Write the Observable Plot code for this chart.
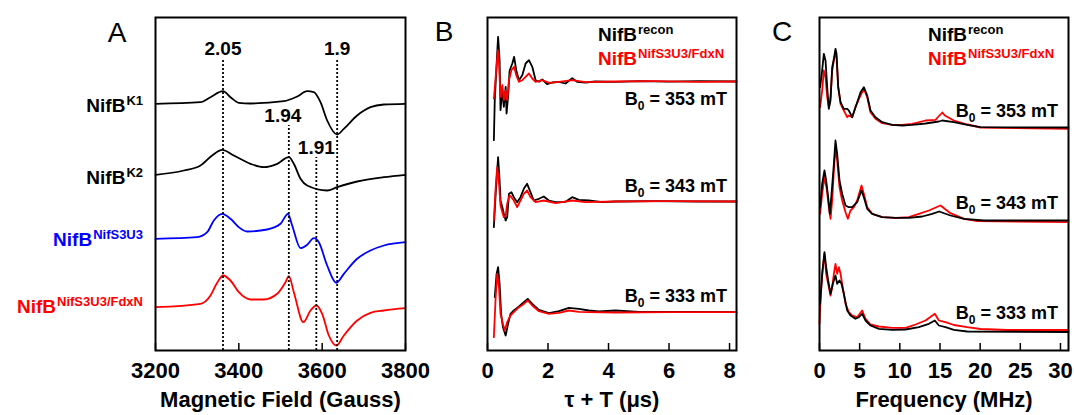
<!DOCTYPE html>
<html><head><meta charset="utf-8">
<script src="https://cdn.jsdelivr.net/npm/d3@7"></script>
<script src="https://cdn.jsdelivr.net/npm/@observablehq/plot@0.6"></script>
<style>
html,body{margin:0;padding:0;background:#fff;}
#fig{position:relative;width:1074px;height:415px;font-family:"Liberation Sans",Arial,sans-serif;overflow:hidden;background:#fff;}
#fig svg{position:absolute;top:0;}
.lbl{position:absolute;font-weight:bold;font-size:19px;line-height:19px;white-space:nowrap;transform:translateY(-50%);}
.lbl sup{font-size:13px;line-height:0;vertical-align:baseline;position:relative;top:-7px;margin-left:1px;}
.b0{position:absolute;font-weight:bold;font-size:18px;line-height:18px;white-space:nowrap;transform:translateY(-50%);}
.b0 sub{font-size:12px;line-height:0;vertical-align:baseline;position:relative;top:5px;}
.letter{position:absolute;font-size:28px;line-height:28px;transform:translate(-50%,-50%);}
</style>
</head><body><div id="fig"></div>
<script>
// ---------------- Panel A: EPR spectra ----------------
const fieldTicks = [3200, 3400, 3600, 3800];
const eprK1 = [[3200,0],[3308,1.6],[3332,6.6],[3362,12.6],[3380,6.6],[3400,1],[3428,0.3],[3508,2.6],[3540,7.3],[3564,12.6],[3580,11.6],[3596,1.6],[3612,-16.7],[3636,-30.7],[3652,-25],[3684,-11.7],[3716,-3.4],[3748,-0.7],[3800,0]];
const eprK2 = [[3200,0],[3268,4.3],[3308,9.3],[3336,19.3],[3360,25],[3388,19.3],[3428,11],[3460,7.6],[3492,11],[3520,17.6],[3532,11],[3548,-4],[3564,-10.7],[3612,-15.7],[3636,-12.4],[3684,-6.7],[3748,-2.4],[3800,0]];
const eprNifS3U3 = [[3200,0],[3300,1.6],[3324,6.6],[3340,18.3],[3360,25],[3380,20],[3400,11.6],[3420,7.3],[3468,9.3],[3500,15],[3518,25],[3528,13.3],[3548,-9.4],[3564,-6],[3580,0.6],[3592,-3.4],[3612,-26.7],[3634,-44],[3652,-35],[3684,-20],[3716,-11.7],[3748,-6.7],[3800,-3.4]];
const eprFdxN = [[3200,0],[3308,3.4],[3332,11.7],[3348,24.4],[3362,31.7],[3380,26.7],[3400,15],[3428,7.7],[3460,7.7],[3492,13.4],[3512,25],[3520,31],[3532,15],[3555,-15],[3572,-3.3],[3586,1.7],[3600,-6.6],[3616,-28.3],[3634,-38.3],[3652,-28.3],[3684,-13.3],[3716,-5.6],[3748,-3.3],[3800,-1]];
const eprSeries = ["K1", "K2", "NifS3U3", "NifS3U3/FdxN"];
const eprData = [eprK1, eprK2, eprNifS3U3, eprFdxN];
const eprOffsets = [246.7, 175.7, 111.7, 43.3];
const eprColors = ["#000000", "#000000", "#0000ff", "#ff0000"];
const gValues = ["2.05", "1.94", "1.91", "1.9"];
const gFields = [3362, 3520, 3586, 3636];
const gTops = [292, 225, 193, 292];

// ---------------- Panel B: 3P-ESEEM time domain ----------------
const timeTicks = [0, 2, 4, 6, 8];
const fieldsMT = [353, 343, 333];
const eseemOffsets = [269, 149, 38.3];
const tRecon353 = [[0.21,-58.7],[0.24,-18.7],[0.32,28],[0.35,44.7],[0.40,21.3],[0.43,-28.7],[0.49,-8.7],[0.54,-25.3],[0.60,-5.3],[0.63,-32],[0.68,-15.3],[0.73,10.7],[0.82,18],[0.88,24.7],[0.95,11.3],[1.04,1.3],[1.15,6.3],[1.26,18],[1.37,21.3],[1.48,14.7],[1.59,1.3],[1.70,-0.3],[1.81,2],[1.97,-2.7],[2.14,-1],[2.36,-0.3],[2.58,-2],[2.80,3.3],[2.96,-0.3],[3.24,-1],[3.57,0],[4.23,-0.3],[5.0,0.3],[6.0,-0.2],[7.0,0.3],[8.23,0]];
const tFdxN353 = [[0.21,-17],[0.29,11.3],[0.34,31.3],[0.38,18],[0.43,-15.3],[0.49,-3.7],[0.54,-18.7],[0.60,-8.7],[0.65,-18.7],[0.71,1.3],[0.79,11.3],[0.88,14.7],[0.95,6.3],[1.04,-0.3],[1.15,1.3],[1.26,4.7],[1.37,8],[1.48,3],[1.59,-0.3],[1.81,1.3],[2.03,-1.3],[2.36,-0.3],[2.80,1.3],[3.24,-0.7],[4.23,0],[5.5,0.3],[7.0,-0.3],[8.23,0]];
const tRecon343 = [[0.21,-25.7],[0.27,7.7],[0.32,31],[0.35,44.3],[0.40,21],[0.43,1],[0.49,-5.7],[0.54,-12.3],[0.60,-19],[0.65,-15.7],[0.71,7.7],[0.79,9.3],[0.87,4.3],[0.98,-0.7],[1.09,4.3],[1.20,12.7],[1.31,17.7],[1.42,9.3],[1.53,1],[1.70,2.7],[1.86,5],[2.03,1],[2.25,-0.7],[2.58,-0.3],[2.80,4.3],[3.02,1.7],[3.35,1],[3.79,-0.7],[4.23,0],[5.5,0.3],[7.0,0],[8.23,0]];
const tFdxN343 = [[0.21,-19],[0.27,14.3],[0.32,34.3],[0.38,17.7],[0.43,-4],[0.49,-10.7],[0.54,-15.7],[0.60,-14],[0.65,-2.3],[0.73,6],[0.79,4.3],[0.87,1],[0.98,-5.7],[1.09,1],[1.20,7.7],[1.31,11],[1.42,4.3],[1.59,-0.7],[1.86,1],[2.25,-1.7],[2.80,1],[3.24,-0.7],[4.23,0],[6.0,0.3],[8.23,0]];
const tRecon333 = [[0.24,15],[0.30,38.3],[0.35,45],[0.40,28.3],[0.45,-1.7],[0.51,-15],[0.60,-23.3],[0.68,-11.7],[0.76,-1.7],[0.87,1.7],[1.04,5.7],[1.20,10],[1.33,13.3],[1.48,8.3],[1.70,2.3],[2.03,-1],[2.36,1],[2.69,4.3],[3.02,3.3],[3.35,1.7],[3.68,0.7],[4.23,1.7],[5.0,0.3],[6.5,0.3],[8.23,0]];
const tFdxN333 = [[0.21,-25],[0.27,15],[0.32,38.3],[0.38,25],[0.43,-1.7],[0.51,-11.7],[0.57,-18.3],[0.65,-10],[0.76,-3.3],[0.87,0],[1.04,5],[1.20,8.3],[1.33,11.7],[1.48,6.7],[1.70,1],[2.03,-1.7],[2.36,-0.7],[2.69,1.7],[3.02,0.3],[3.35,0],[4.23,-0.3],[6.0,0],[8.23,0]];
const timeRecon = [tRecon353, tRecon343, tRecon333];
const timeFdxN = [tFdxN353, tFdxN343, tFdxN333];

// ---------------- Panel C: frequency domain ----------------
const freqTicks = [0, 5, 10, 15, 20, 25, 30];
const freqOffsets = [223, 130, 18.5];
const fRecon353 = [[0.08,40.3],[0.33,57],[0.54,73.7],[0.75,67],[0.96,40.3],[1.16,18.7],[1.37,27],[1.58,60.3],[1.79,68.7],[1.99,78.7],[2.12,73.7],[2.33,40.3],[2.62,25.3],[3.03,18.7],[3.45,18.7],[3.65,17],[4.07,10.3],[4.48,20.3],[5.11,35.3],[5.52,40.3],[5.94,32],[6.35,17],[6.97,10.3],[7.80,5.3],[9.05,2.7],[10.3,2],[11.54,2.7],[13.2,4],[14.86,6],[15.28,7],[16.73,5.3],[18.39,2.7],[20.05,0.3],[31,0]];
const fFdxN353 = [[0.08,20.3],[0.33,37],[0.54,57],[0.75,50.3],[0.96,30.3],[1.16,20.3],[1.37,30.3],[1.58,57],[1.79,67],[1.99,75.3],[2.12,70.3],[2.33,40.3],[2.62,23.7],[3.03,17],[3.45,10.3],[3.65,12],[4.07,10.3],[4.48,20.3],[5.11,32],[5.52,38.7],[5.94,30.3],[6.35,15.3],[6.97,8.7],[7.80,4.3],[9.05,2.7],[10.3,2.7],[11.54,3.7],[13.2,7],[14.45,7.7],[14.7,10],[15.3,15],[15.6,12],[16.73,7],[18.39,3],[20.05,0],[31,-1.3]];
const fRecon343 = [[0.08,13.3],[0.33,36.7],[0.62,50],[0.83,40],[1.08,23.3],[1.29,6.7],[1.50,26.7],[1.79,56.7],[1.99,80],[2.2,66.7],[2.49,40],[2.82,26.7],[3.24,15],[3.65,13.3],[4.07,13.3],[4.69,18.3],[5.23,30],[5.52,23.3],[5.94,11.7],[6.56,6.7],[7.80,3.3],[9.47,2.7],[11.13,2.7],[12.79,4],[14.03,6.7],[14.9,9],[16.3,5],[18.0,1.7],[20.47,0],[31,0]];
const fFdxN343 = [[0.08,6.7],[0.33,26.7],[0.62,43.3],[0.87,33.3],[1.16,13.3],[1.37,1.7],[1.58,20],[1.79,50],[1.99,73.3],[2.2,60],[2.49,33.3],[2.82,20],[3.24,8.3],[3.53,1.7],[3.86,10],[4.28,13.3],[4.69,20],[5.23,35],[5.52,26.7],[5.94,13.3],[6.56,6.7],[7.80,3.3],[9.47,2.7],[11.13,3.3],[12.37,6.7],[13.62,10],[14.9,14.5],[15.07,15],[16.3,7.3],[18.0,1.7],[19.63,-0.7],[31,-1.7]];
const fRecon333 = [[0.08,28.2],[0.33,58.2],[0.62,79.8],[0.83,64.8],[1.08,51.5],[1.37,38.2],[1.66,48.2],[1.99,56.5],[2.2,48.2],[2.49,51.5],[2.74,48.2],[3.03,38.2],[3.45,21.5],[3.86,16.5],[4.48,13.2],[4.90,14.8],[5.31,18.2],[5.73,11.5],[6.35,6.5],[7.39,3.2],[9.05,2.2],[10.71,2.5],[12.37,4.8],[13.62,8.2],[14.36,11.5],[14.86,6.5],[15.69,4.8],[16.73,2.2],[18.39,0.5],[31,0]];
const fFdxN333 = [[0,8.2],[0.17,38.2],[0.42,64.8],[0.62,78.2],[0.83,58.2],[1.08,48.2],[1.37,36.5],[1.58,44.8],[1.79,58.2],[1.99,68.2],[2.2,58.2],[2.41,64.8],[2.62,58.2],[2.82,48.2],[3.24,28.2],[3.65,19.8],[4.07,16.5],[4.69,14.8],[5.31,21.5],[5.73,13.2],[6.35,7.5],[7.39,5.5],[9.05,4.2],[10.71,4.2],[11.96,7.5],[13.2,11.5],[14.36,18.2],[14.86,11.5],[15.69,9.8],[16.73,7],[18.39,4.8],[20.05,3],[23.37,2],[31,2]];
const freqRecon = [fRecon353, fRecon343, fRecon333];
const freqFdxN = [fFdxN353, fFdxN343, fFdxN333];

// ---------------- layout helpers ----------------
const FONT = "'Liberation Sans', Arial, sans-serif";
const H = 415, MT = 17, MB = 65, PH = H - MT - MB;
const baseStyle = {fontFamily: FONT, fontWeight: "bold", fontSize: "20px", background: "transparent", overflow: "visible"};
const fig = document.getElementById("fig");

function axisMarks(ticks, title, fmt) {
  return [
    Plot.ruleX(ticks, {insetTop: PH - 7, stroke: "black", strokeWidth: 1.5}),
    Plot.frame({stroke: "black", strokeWidth: 2}),
    Plot.axisX({ticks, tickSize: 0, tickPadding: 12, tickFormat: fmt || (d => String(d)), fontSize: 22, fontWeight: "bold", fill: "black", label: null}),
    Plot.text([title], {text: d => d, frameAnchor: "bottom", dy: 49, lineAnchor: "middle", fontSize: 22, fontWeight: "bold", fill: "black"})
  ];
}
function lineOf(data, offset, color, curve) {
  return Plot.line(data, {x: d => d[0], y: d => d[1] + offset, stroke: color, strokeWidth: 1.8, curve: curve || "linear"});
}

// Panel A
const gRows = gValues.map((g, i) => ({g, f: gFields[i], top: gTops[i]}));
const plotA = Plot.plot({
  width: 420, height: H, marginLeft: 155, marginRight: 15, marginTop: MT, marginBottom: MB,
  x: {domain: [3200, 3800]}, y: {domain: [0, PH], axis: null},
  style: baseStyle,
  marks: [
    ...eprData.map((d, i) => lineOf(d, eprOffsets[i], eprColors[i], "monotone-x")),
    Plot.ruleX(gRows, {x: "f", y1: 0, y2: "top", stroke: "black", strokeWidth: 1.8, strokeDasharray: "2,2"}),
    Plot.text(gRows.filter(r => r.g !== "1.94"), {x: "f", y: "top", text: "g", dy: -10, fontSize: 19, fontWeight: "bold", fill: "black"}),
    Plot.text(gRows.filter(r => r.g === "1.94"), {x: "f", y: "top", text: "g", dy: -10, dx: -6, fontSize: 19, fontWeight: "bold", fill: "black"}),
    ...axisMarks(fieldTicks, "Magnetic Field (Gauss)")
  ]
});
plotA.style.left = "0px";
fig.appendChild(plotA);

// Panel B
const plotB = Plot.plot({
  width: 330, height: H, marginLeft: 67, marginRight: 14, marginTop: MT, marginBottom: MB,
  x: {domain: [0, 8.23]}, y: {domain: [0, PH], axis: null},
  style: baseStyle,
  marks: [
    ...timeRecon.map((d, i) => lineOf(d, eseemOffsets[i], "#000000")),
    ...timeFdxN.map((d, i) => lineOf(d, eseemOffsets[i], "#ff0000")),
    ...axisMarks(timeTicks, "τ + T (μs)")
  ]
});
plotB.style.left = "420px";
fig.appendChild(plotB);

// Panel C
const plotC = Plot.plot({
  width: 324, height: H, marginLeft: 69, marginRight: 6, marginTop: MT, marginBottom: MB,
  x: {domain: [0, 31]}, y: {domain: [0, PH], axis: null},
  style: baseStyle,
  marks: [
    ...freqFdxN.map((d, i) => lineOf(d, freqOffsets[i], "#ff0000")),
    ...freqRecon.map((d, i) => lineOf(d, freqOffsets[i], "#000000")),
    ...axisMarks(freqTicks, "Frequency (MHz)")
  ]
});
plotC.style.left = "750px";
fig.appendChild(plotC);

// ---------------- HTML text overlays ----------------
function addDiv(cls, html, css) {
  const d = document.createElement("div");
  d.className = cls; d.innerHTML = html;
  Object.assign(d.style, css);
  fig.appendChild(d);
}
const panelLetters = ["A", "B", "C"];
const letterPos = [[117, 33], [444, 32], [782, 32]];
panelLetters.forEach((L, i) => addDiv("letter", L, {left: letterPos[i][0] + "px", top: letterPos[i][1] + "px"}));

const labelYA = [105, 177, 239, 306];
eprSeries.forEach((s, i) => addDiv("lbl", "NifB<sup>" + s + "</sup>", {right: (1074 - 143) + "px", top: labelYA[i] + "px", color: eprColors[i]}));

const legendNames = ["recon", "NifS3U3/FdxN"];
const legendColors = ["#000000", "#ff0000"];
[[598], [928]].forEach(([x]) => {
  legendNames.forEach((s, i) => addDiv("lbl", "NifB<sup>" + s + "</sup>", {left: x + "px", top: (34 + 24 * i) + "px", color: legendColors[i]}));
});

const b0YB = [99, 186, 296], b0YC = [110.7, 202.7, 312.7];
fieldsMT.forEach((m, i) => {
  addDiv("b0", "B<sub>0</sub> = " + m + " mT", {right: (1074 - 727) + "px", top: b0YB[i] + "px"});
  addDiv("b0", "B<sub>0</sub> = " + m + " mT", {right: (1074 - 1058) + "px", top: b0YC[i] + "px"});
});
</script></body></html>
